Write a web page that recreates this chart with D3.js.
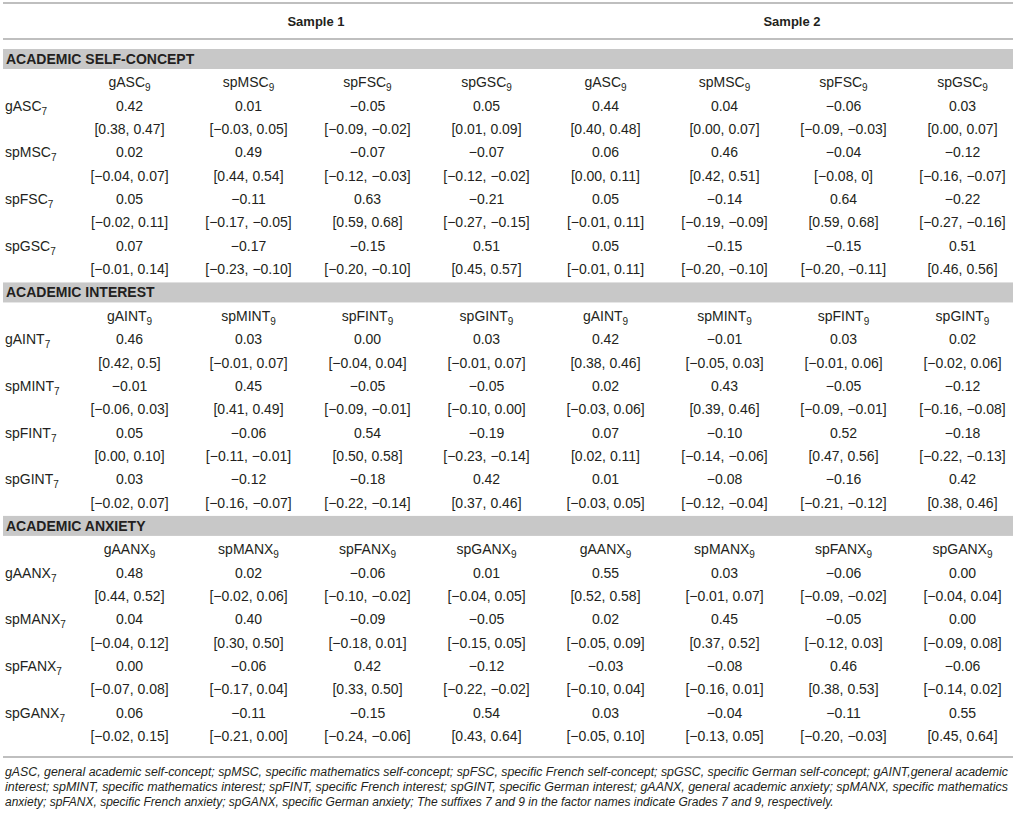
<!DOCTYPE html>
<html>
<head>
<meta charset="utf-8">
<script src="https://cdn.jsdelivr.net/npm/d3@7"></script>
<style>
  html, body { margin: 0; padding: 0; background: #fff; }
  svg text { font-family: "Liberation Sans", Arial, sans-serif; fill: #231f20; }
</style>
</head>
<body>
<svg id="table" width="1016" height="818"></svg>
<script>
const samples = ['Sample 1', 'Sample 2']

const sections = ['ACADEMIC SELF-CONCEPT', 'ACADEMIC INTEREST', 'ACADEMIC ANXIETY']

// factor stems (row factor = grade 7, column factor = grade 9)
const ascFactors = ['gASC', 'spMSC', 'spFSC', 'spGSC']
const intFactors = ['gAINT', 'spMINT', 'spFINT', 'spGINT']
const anxFactors = ['gAANX', 'spMANX', 'spFANX', 'spGANX']

// estimates: one row per grade-7 factor, 4 columns Sample 1 then 4 columns Sample 2
const ascEst = [
  [0.42, 0.01, -0.05, 0.05, 0.44, 0.04, -0.06, 0.03],
  [0.02, 0.49, -0.07, -0.07, 0.06, 0.46, -0.04, -0.12],
  [0.05, -0.11, 0.63, -0.21, 0.05, -0.14, 0.64, -0.22],
  [0.07, -0.17, -0.15, 0.51, 0.05, -0.15, -0.15, 0.51]
]
const ascCI = [
  ['0.38, 0.47', '-0.03, 0.05', '-0.09, -0.02', '0.01, 0.09', '0.40, 0.48', '0.00, 0.07', '-0.09, -0.03', '0.00, 0.07'],
  ['-0.04, 0.07', '0.44, 0.54', '-0.12, -0.03', '-0.12, -0.02', '0.00, 0.11', '0.42, 0.51', '-0.08, 0', '-0.16, -0.07'],
  ['-0.02, 0.11', '-0.17, -0.05', '0.59, 0.68', '-0.27, -0.15', '-0.01, 0.11', '-0.19, -0.09', '0.59, 0.68', '-0.27, -0.16'],
  ['-0.01, 0.14', '-0.23, -0.10', '-0.20, -0.10', '0.45, 0.57', '-0.01, 0.11', '-0.20, -0.10', '-0.20, -0.11', '0.46, 0.56']
]

const intEst = [
  [0.46, 0.03, 0.00, 0.03, 0.42, -0.01, 0.03, 0.02],
  [-0.01, 0.45, -0.05, -0.05, 0.02, 0.43, -0.05, -0.12],
  [0.05, -0.06, 0.54, -0.19, 0.07, -0.10, 0.52, -0.18],
  [0.03, -0.12, -0.18, 0.42, 0.01, -0.08, -0.16, 0.42]
]
const intCI = [
  ['0.42, 0.5', '-0.01, 0.07', '-0.04, 0.04', '-0.01, 0.07', '0.38, 0.46', '-0.05, 0.03', '-0.01, 0.06', '-0.02, 0.06'],
  ['-0.06, 0.03', '0.41, 0.49', '-0.09, -0.01', '-0.10, 0.00', '-0.03, 0.06', '0.39, 0.46', '-0.09, -0.01', '-0.16, -0.08'],
  ['0.00, 0.10', '-0.11, -0.01', '0.50, 0.58', '-0.23, -0.14', '0.02, 0.11', '-0.14, -0.06', '0.47, 0.56', '-0.22, -0.13'],
  ['-0.02, 0.07', '-0.16, -0.07', '-0.22, -0.14', '0.37, 0.46', '-0.03, 0.05', '-0.12, -0.04', '-0.21, -0.12', '0.38, 0.46']
]

const anxEst = [
  [0.48, 0.02, -0.06, 0.01, 0.55, 0.03, -0.06, 0.00],
  [0.04, 0.40, -0.09, -0.05, 0.02, 0.45, -0.05, 0.00],
  [0.00, -0.06, 0.42, -0.12, -0.03, -0.08, 0.46, -0.06],
  [0.06, -0.11, -0.15, 0.54, 0.03, -0.04, -0.11, 0.55]
]
const anxCI = [
  ['0.44, 0.52', '-0.02, 0.06', '-0.10, -0.02', '-0.04, 0.05', '0.52, 0.58', '-0.01, 0.07', '-0.09, -0.02', '-0.04, 0.04'],
  ['-0.04, 0.12', '0.30, 0.50', '-0.18, 0.01', '-0.15, 0.05', '-0.05, 0.09', '0.37, 0.52', '-0.12, 0.03', '-0.09, 0.08'],
  ['-0.07, 0.08', '-0.17, 0.04', '0.33, 0.50', '-0.22, -0.02', '-0.10, 0.04', '-0.16, 0.01', '0.38, 0.53', '-0.14, 0.02'],
  ['-0.02, 0.15', '-0.21, 0.00', '-0.24, -0.06', '0.43, 0.64', '-0.05, 0.10', '-0.13, 0.05', '-0.20, -0.03', '0.45, 0.64']
]

const footnote = [
  'gASC, general academic self-concept; spMSC, specific mathematics self-concept; spFSC, specific French self-concept; spGSC, specific German self-concept; gAINT,general academic',
  'interest; spMINT, specific mathematics interest; spFINT, specific French interest; spGINT, specific German interest; gAANX, general academic anxiety; spMANX, specific mathematics',
  'anxiety; spFANX, specific French anxiety; spGANX, specific German anxiety; The suffixes 7 and 9 in the factor names indicate Grades 7 and 9, respectively.'
]

// ---- build the flat row list ----
const blocks = [
  { factors: ascFactors, est: ascEst, ci: ascCI },
  { factors: intFactors, est: intEst, ci: intCI },
  { factors: anxFactors, est: anxEst, ci: anxCI }
]

const rows = []
blocks.forEach((b, si) => {
  rows.push({ type: 'section', title: sections[si] })
  rows.push({ type: 'head', cells: b.factors.concat(b.factors) })
  b.factors.forEach((f, ri) => {
    rows.push({ type: 'est', label: f, cells: b.est[ri] })
    rows.push({ type: 'ci', cells: b.ci[ri] })
  })
})

const fmt = d3.format('.2f')
const minus = (s) => s.replace(/-/g, '\u2212')

// ---- scales ----
const svg = d3.select('#table')
const x = d3.scaleBand().domain(d3.range(8)).range([70, 1022])
const y = d3.scaleLinear().domain([0, rows.length - 1]).range([59, 736])
const bw = x.bandwidth()
const cx = (i) => x(i) + bw / 2

const lineColor = '#bfbfbf'

// top rules + sample headings
svg.append('line').attr('x1', 3).attr('x2', 1013).attr('y1', 3).attr('y2', 3)
  .attr('stroke', lineColor).attr('stroke-width', 2)
svg.append('line').attr('x1', 3).attr('x2', 1013).attr('y1', 39).attr('y2', 39)
  .attr('stroke', lineColor).attr('stroke-width', 2)

svg.selectAll('.sample')
  .data(samples)
  .enter().append('text')
  .attr('class', 'sample')
  .attr('x', (d, i) => (cx(i * 4) + cx(i * 4 + 3)) / 2 + 8)
  .attr('y', 21)
  .attr('dy', '0.35em')
  .attr('text-anchor', 'middle')
  .attr('font-weight', 'bold')
  .attr('font-size', '13px')
  .text((d) => d)

// rows
const g = svg.append('g')

rows.forEach((r, k) => {
  const yy = y(k)
  if (r.type === 'section') {
    g.append('rect').attr('x', 3).attr('y', yy - 10).attr('width', 1010).attr('height', 20)
      .attr('fill', '#c8c8c8')
    g.append('text').attr('x', 6).attr('y', yy).attr('dy', '0.36em')
      .attr('font-weight', 'bold').attr('font-size', '14px').text(r.title)
    return
  }
  if (r.type === 'est') {
    const t = g.append('text').attr('x', 5).attr('y', yy).attr('dy', '0.36em').attr('font-size', '14px')
    t.append('tspan').text(r.label)
    t.append('tspan').attr('font-size', '10px').attr('dy', '4').text('7')
  }
  const cells = g.selectAll(null)
    .data(r.cells)
    .enter().append('text')
    .attr('x', (d, i) => cx(i))
    .attr('y', yy)
    .attr('dy', '0.36em')
    .attr('text-anchor', 'middle')
    .attr('font-size', '14px')

  if (r.type === 'head') {
    cells.append('tspan').text((d) => d)
    cells.append('tspan').attr('font-size', '10px').attr('dy', '4').text('9')
  } else if (r.type === 'est') {
    cells.text((d) => fmt(d))
  } else {
    cells.text((d) => '[' + minus(d) + ']')
  }
})

// bottom rule + footnote
svg.append('line').attr('x1', 3).attr('x2', 1013).attr('y1', 757).attr('y2', 757)
  .attr('stroke', lineColor).attr('stroke-width', 2)

svg.selectAll('.note')
  .data(footnote)
  .enter().append('text')
  .attr('class', 'note')
  .attr('x', 5)
  .attr('y', (d, i) => 772 + i * 15)
  .attr('dy', '0.35em')
  .attr('font-size', '12px')
  .attr('font-style', 'italic')
  .attr('textLength', (d, i) => (i < 2 ? 1003 : null))
  .attr('lengthAdjust', 'spacingAndGlyphs')
  .text((d) => d)
</script>
</body>
</html>
